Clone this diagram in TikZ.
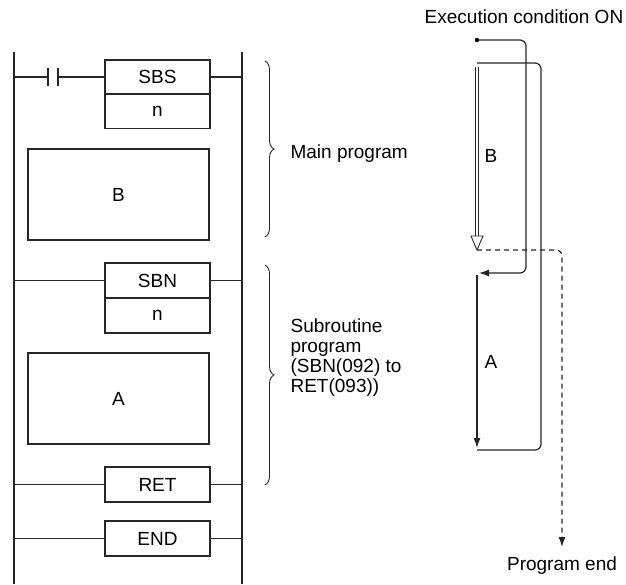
\documentclass[tikz,border=0pt]{standalone}
\usepackage{fontspec}
\setmainfont{Liberation Sans}
\usetikzlibrary{arrows.meta,decorations.pathreplacing}
\begin{document}
\begin{tikzpicture}[x=1pt,y=-1pt,line width=1.2pt,draw=black!85,
  txt/.style={font=\fontsize{19}{24}\selectfont,inner sep=0pt},
  box/.style={draw,rectangle,inner sep=0pt},
  brace/.style={decorate,decoration={brace,amplitude=9pt}},
  flow/.style={rounded corners=6pt}]
\useasboundingbox (0,0) rectangle (626,584);
% rails
\draw (14,52) -- (14,584);
\draw (242,52) -- (242,584);
% SBS
\node[box,minimum width=105,minimum height=34,txt] (sbs) at (157.5,77) {SBS};
\node[box,minimum width=105,minimum height=35,txt] (sbsn) at (157.5,111) {n};
\draw (14,77) -- (48,77) (48,68) -- (48,86) (58,68) -- (58,86) (58,77) -- (sbs.west);
\draw (sbs.east) -- (242,77);
\node[box,minimum width=181,minimum height=91,txt] (b) at (118.5,194.5) {B};
% SBN
\node[box,minimum width=105,minimum height=35,txt] (sbn) at (157.5,280.5) {SBN};
\node[box,minimum width=105,minimum height=35,txt] (sbnn) at (157.5,315.5) {n};
\draw (14,280.5) -- (sbn.west) (sbn.east) -- (242,280.5);
\node[box,minimum width=181,minimum height=91,txt] (a) at (118.5,398.5) {A};
\node[box,minimum width=105,minimum height=35,txt] (ret) at (157.5,484.5) {RET};
\draw (14,484.5) -- (ret.west) (ret.east) -- (242,484.5);
\node[box,minimum width=105,minimum height=35,txt] (end) at (157.5,538.5) {END};
\draw (14,538.5) -- (end.west) (end.east) -- (242,538.5);
% braces
\draw[brace,line width=0.9pt] (265,61) -- (265,237);
\node[txt,anchor=west] (mp) at (290,154) {Main program};
\draw[brace,line width=0.9pt] (265,265) -- (265,485);
\node[txt,anchor=west,align=left,font=\fontsize{19}{20}\selectfont] (sp) at (290,358) {Subroutine\\program\\(SBN(092) to\\RET(093))};
% right flow
\node[txt,anchor=base] (ec) at (524,23) {Execution condition ON};
\coordinate (d) at (477,40);
\fill (d) circle (2.2pt);
\draw[flow,-{Latex[length=10pt,width=7pt]}] (d) -- (526,40) -- (526,273) -- (479,273);
\draw[flow] (477,63) -- (541,63) -- (541,450) -- (477,450);
\coordinate (bs) at (477,67);
\coordinate (be) at (477,250);
\draw[line width=3.4pt] (bs) -- (477,236);
\draw[line width=1.4pt,white] (bs) -- (477,237);
\draw[line width=0.9pt,fill=white] (471,236) -- (483,236) -- (477,250) -- cycle;
\node[txt,anchor=west] (bl) at (484,156) {B};
\draw[dash pattern=on 5pt off 4pt,flow,-{Latex[length=10pt,width=7pt]}] (be) -- (562,250) -- (562,547);
\node[txt,anchor=base] (pe) at (562,570) {Program end};
\draw[-{Latex[length=10pt,width=7pt]}] (477,275) -- (477,448);
\node[txt,anchor=west] (al) at (484,362) {A};
\end{tikzpicture}
\end{document}
